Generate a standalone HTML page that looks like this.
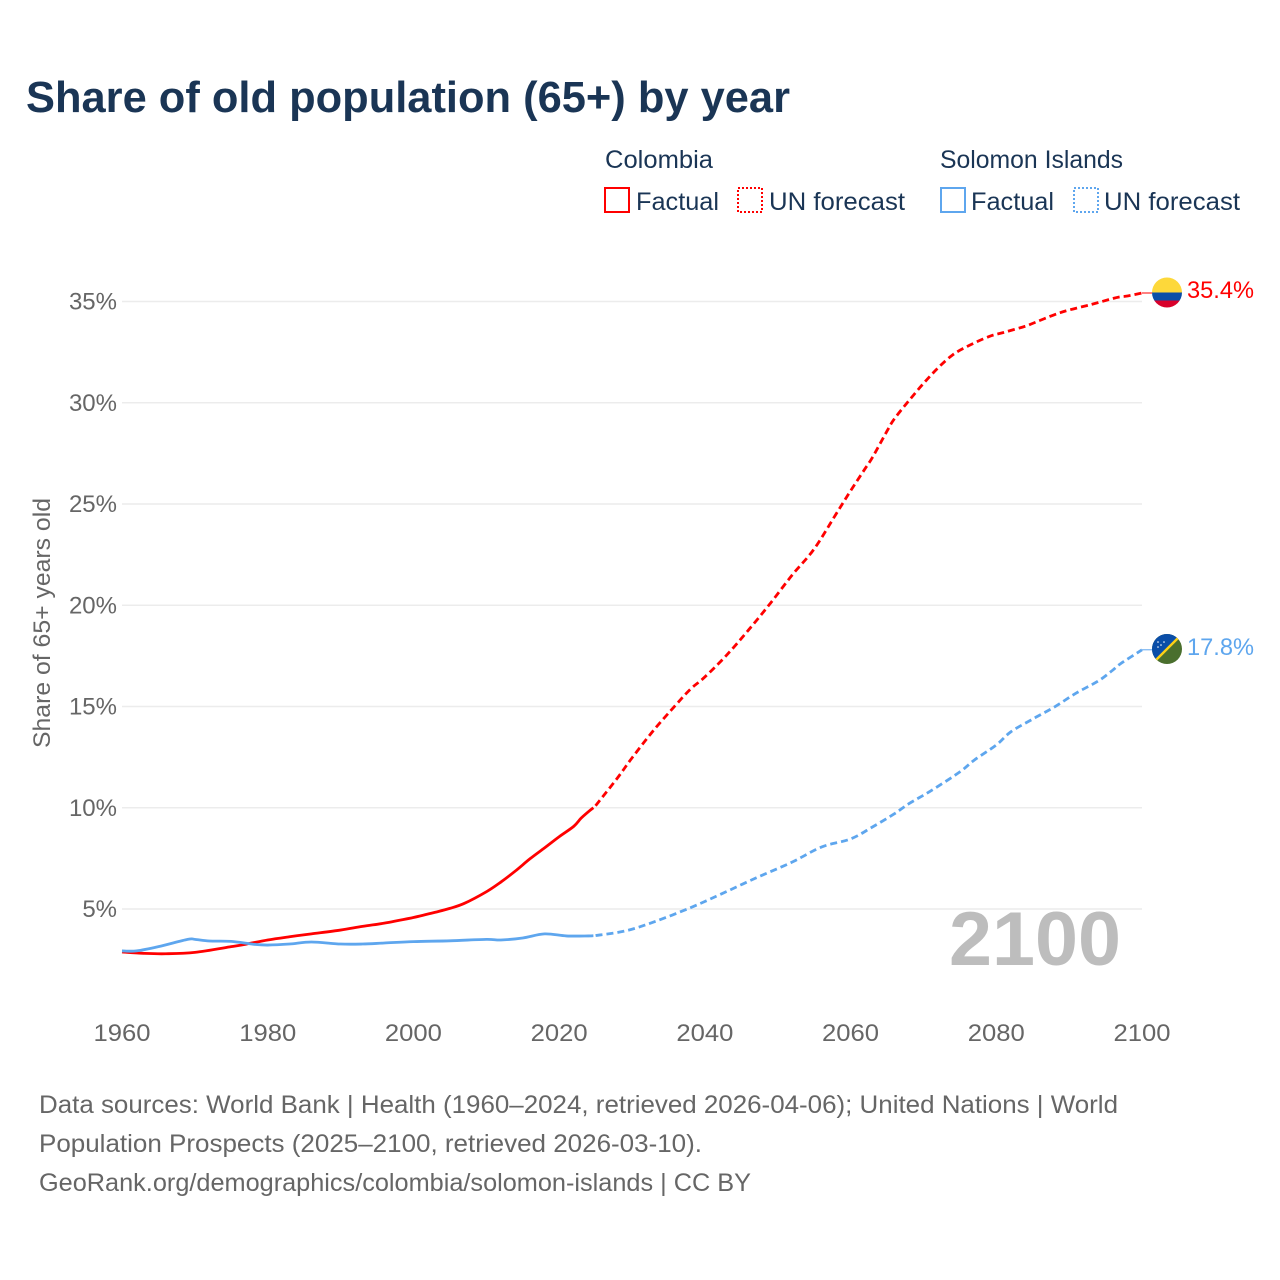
<!DOCTYPE html>
<html lang="en">
<head>
<meta charset="utf-8">
<title>Share of old population (65+) by year</title>
<style>
html,body{margin:0;padding:0;background:#fff;}
svg{display:block;}
text{font-family:"Liberation Sans",sans-serif;}
</style>
</head>
<body>
<svg id="chart" width="1280" height="1280" viewBox="0 0 1280 1280" xmlns="http://www.w3.org/2000/svg">
  <defs>
    <clipPath id="clip-co"><circle cx="1167" cy="292.5" r="15"/></clipPath>
    <clipPath id="clip-sb"><circle cx="1167" cy="649" r="15"/></clipPath>
  </defs>
  <rect width="1280" height="1280" fill="#fff"/>
  <text x="26" y="112" font-size="44" font-weight="700" fill="#1a3555" textLength="764" lengthAdjust="spacingAndGlyphs">Share of old population (65+) by year</text>

  <g fill="#1a3555" font-size="25">
    <text x="605" y="168" textLength="108" lengthAdjust="spacingAndGlyphs">Colombia</text>
    <text x="940" y="168" textLength="183" lengthAdjust="spacingAndGlyphs">Solomon Islands</text>
    <rect x="605" y="188" width="24" height="24" fill="none" stroke="#ff0000" stroke-width="2" shape-rendering="crispEdges"/>
    <text x="636" y="210" textLength="83" lengthAdjust="spacingAndGlyphs">Factual</text>
    <rect x="738" y="188" width="24" height="24" fill="none" stroke="#ff0000" stroke-width="2" stroke-dasharray="2 2" shape-rendering="crispEdges"/>
    <text x="769" y="210" textLength="136" lengthAdjust="spacingAndGlyphs">UN forecast</text>
    <rect x="941" y="188" width="24" height="24" fill="none" stroke="#5ea6ee" stroke-width="2" shape-rendering="crispEdges"/>
    <text x="971" y="210" textLength="83" lengthAdjust="spacingAndGlyphs">Factual</text>
    <rect x="1074" y="188" width="24" height="24" fill="none" stroke="#5ea6ee" stroke-width="2" stroke-dasharray="2 2" shape-rendering="crispEdges"/>
    <text x="1104" y="210" textLength="136" lengthAdjust="spacingAndGlyphs">UN forecast</text>
  </g>

  <g id="grid"></g>
  <g id="yticks"></g>
  <g id="xticks"></g>
  <text transform="translate(50,623) rotate(-90)" text-anchor="middle" font-size="24" fill="#666" textLength="250" lengthAdjust="spacingAndGlyphs">Share of 65+ years old</text>

  <text x="949" y="965" font-size="76" font-weight="700" fill="#bdbdbd" textLength="172" lengthAdjust="spacingAndGlyphs">2100</text>

  <g id="series"></g>

  <g clip-path="url(#clip-co)">
    <rect x="1152" y="277" width="30" height="15.5" fill="#fdd83a"/>
    <rect x="1152" y="292.5" width="30" height="8" fill="#0a4ea8"/>
    <rect x="1152" y="300.5" width="30" height="8" fill="#d8002b"/>
  </g>
  <g clip-path="url(#clip-sb)">
    <rect x="1152" y="634" width="30" height="30" fill="#4a6f2e"/>
    <polygon points="1152,634 1182,634 1152,664" fill="#0a4ea8"/>
    <line x1="1152" y1="664" x2="1182" y2="634" stroke="#fcd116" stroke-width="2.4"/>
    <g fill="#fff">
      <circle cx="1158" cy="642" r="0.8"/><circle cx="1164" cy="642" r="0.8"/><circle cx="1161" cy="645" r="0.8"/><circle cx="1158" cy="647" r="0.8"/>
    </g>
  </g>
  <text x="1187" y="298" font-size="24" fill="#ff0000" textLength="67" lengthAdjust="spacingAndGlyphs">35.4%</text>
  <text x="1187" y="655" font-size="24" fill="#5ea6ee" textLength="67" lengthAdjust="spacingAndGlyphs">17.8%</text>

  <g font-size="25" fill="#666">
    <text x="39" y="1113" textLength="1079" lengthAdjust="spacingAndGlyphs">Data sources: World Bank | Health (1960–2024, retrieved 2026-04-06); United Nations | World</text>
    <text x="39" y="1152" textLength="663" lengthAdjust="spacingAndGlyphs">Population Prospects (2025–2100, retrieved 2026-03-10).</text>
    <text x="39" y="1191" textLength="712" lengthAdjust="spacingAndGlyphs">GeoRank.org/demographics/colombia/solomon-islands | CC BY</text>
  </g>
</svg>
<script>
const yTickValues = [5, 10, 15, 20, 25, 30, 35];
const xTickYears = [1960, 1980, 2000, 2020, 2040, 2060, 2080, 2100];

const colombiaFactualYears = [1960, 1963, 1966, 1970, 1975, 1977, 1980, 1983, 1986, 1990, 1993, 1996, 1998, 2000, 2003, 2005, 2007, 2010, 2012, 2014, 2016, 2018, 2020, 2022, 2023, 2024, 2024.7];
const colombiaFactualValues = [2.88, 2.81, 2.79, 2.86, 3.14, 3.26, 3.47, 3.63, 3.77, 3.96, 4.14, 4.3, 4.44, 4.58, 4.84, 5.03, 5.28, 5.85, 6.33, 6.88, 7.48, 8.02, 8.57, 9.08, 9.48, 9.8, 10.0];

const colombiaForecastYears = [2025, 2028, 2030, 2033, 2036, 2038, 2040, 2043, 2046, 2049, 2052, 2055, 2058, 2060, 2062, 2063, 2065, 2066, 2068, 2070, 2072, 2074, 2076, 2079, 2081, 2084, 2085, 2088, 2090, 2093, 2096, 2097, 2098, 2100];
const colombiaForecastValues = [10.1, 11.47, 12.46, 13.84, 15.07, 15.85, 16.46, 17.54, 18.78, 20.1, 21.5, 22.78, 24.5, 25.65, 26.75, 27.3, 28.6, 29.2, 30.1, 30.95, 31.72, 32.36, 32.78, 33.27, 33.47, 33.78, 33.92, 34.35, 34.58, 34.85, 35.15, 35.23, 35.27, 35.42];

const solomonFactualYears = [1960, 1962, 1965, 1969, 1970, 1972, 1975, 1978, 1980, 1983, 1986, 1990, 1993, 1996, 2000, 2005, 2010, 2012, 2015, 2018, 2021, 2024, 2024.7];
const solomonFactualValues = [2.93, 2.93, 3.14, 3.5, 3.5, 3.42, 3.4, 3.26, 3.22, 3.27, 3.37, 3.27, 3.27, 3.32, 3.39, 3.43, 3.5, 3.47, 3.57, 3.77, 3.67, 3.67, 3.68];

const solomonForecastYears = [2025, 2029, 2033, 2038, 2042, 2047, 2052, 2056, 2060, 2063, 2066, 2068, 2071, 2075, 2077, 2080, 2082, 2085, 2088, 2091, 2094, 2096, 2097, 2100];
const solomonForecastValues = [3.69, 3.91, 4.36, 5.06, 5.7, 6.53, 7.32, 8.06, 8.46, 9.05, 9.7, 10.2, 10.83, 11.77, 12.36, 13.1, 13.75, 14.38, 14.98, 15.67, 16.26, 16.8, 17.1, 17.8];

const endYear = 2100;

const NS = 'http://www.w3.org/2000/svg';
const xScale = function (year) { return 122 + (year - 1960) * (1142 - 122) / 140; };
const yScale = function (value) { return 1010.25 - value * 20.25; };

function smoothPath(years, values) {
  const pts = years.map(function (y, i) { return [xScale(y), yScale(values[i])]; });
  let d = 'M' + pts[0][0].toFixed(2) + ' ' + pts[0][1].toFixed(2);
  for (let i = 0; i < pts.length - 1; i++) {
    const p0 = pts[Math.max(i - 1, 0)], p1 = pts[i], p2 = pts[i + 1], p3 = pts[Math.min(i + 2, pts.length - 1)];
    const c1x = p1[0] + (p2[0] - p0[0]) / 6, c1y = p1[1] + (p2[1] - p0[1]) / 6;
    const c2x = p2[0] - (p3[0] - p1[0]) / 6, c2y = p2[1] - (p3[1] - p1[1]) / 6;
    d += 'C' + c1x.toFixed(2) + ' ' + c1y.toFixed(2) + ' ' + c2x.toFixed(2) + ' ' + c2y.toFixed(2) + ' ' + p2[0].toFixed(2) + ' ' + p2[1].toFixed(2);
  }
  return d;
}

const gridGroup = document.getElementById('grid');
const yTickGroup = document.getElementById('yticks');
const xTickGroup = document.getElementById('xticks');
const seriesGroup = document.getElementById('series');

yTickValues.forEach(function (v) {
  const line = document.createElementNS(NS, 'line');
  
  
  line.setAttribute('x1', xScale(1960));
  line.setAttribute('x2', xScale(2100));
  line.setAttribute('y1', yScale(v));
  line.setAttribute('y2', yScale(v));
  line.setAttribute('stroke', '#ececec');
  line.setAttribute('stroke-width', '1.5');
  gridGroup.appendChild(line);

  const label = document.createElementNS(NS, 'text');
  
  
  label.setAttribute('x', '117');
  label.setAttribute('y', yScale(v) + 8);
  label.setAttribute('text-anchor', 'end');
  label.setAttribute('font-size', '24');
  label.setAttribute('fill', '#666');
  label.textContent = v + '%';
  yTickGroup.appendChild(label);
});

xTickYears.forEach(function (yr) {
  const label = document.createElementNS(NS, 'text');
  
  
  label.setAttribute('x', xScale(yr));
  label.setAttribute('y', '1041');
  label.setAttribute('text-anchor', 'middle');
  label.setAttribute('font-size', '24');
  label.setAttribute('fill', '#666');
  label.setAttribute('textLength', '57');
  label.setAttribute('lengthAdjust', 'spacingAndGlyphs');
  label.textContent = yr;
  xTickGroup.appendChild(label);
});

function addLine(name, years, values, color, dash) {
  const path = document.createElementNS(NS, 'path');
  
  
  path.setAttribute('d', smoothPath(years, values));
  path.setAttribute('fill', 'none');
  path.setAttribute('stroke', color);
  path.setAttribute('stroke-width', '2.8');
  if (dash) path.setAttribute('stroke-dasharray', dash);
  seriesGroup.appendChild(path);
}

function addConnector(name, value, color) {
  const line = document.createElementNS(NS, 'line');
  
  
  line.setAttribute('x1', xScale(endYear));
  line.setAttribute('x2', '1152');
  line.setAttribute('y1', yScale(value));
  line.setAttribute('y2', yScale(value));
  line.setAttribute('stroke', color);
  line.setAttribute('stroke-width', '1');
  seriesGroup.appendChild(line);
}

addLine('line-colombia-factual', colombiaFactualYears, colombiaFactualValues, '#ff0000');
addLine('line-colombia-forecast', colombiaForecastYears, colombiaForecastValues, '#ff0000', '7 4');
addLine('line-solomon-factual', solomonFactualYears, solomonFactualValues, '#5ea6ee');
addLine('line-solomon-forecast', solomonForecastYears, solomonForecastValues, '#5ea6ee', '7 4');
addConnector('connector-colombia', colombiaForecastValues[colombiaForecastValues.length - 1], '#ff0000');
addConnector('connector-solomon-islands', solomonForecastValues[solomonForecastValues.length - 1], '#5ea6ee');
</script>
</body>
</html>
